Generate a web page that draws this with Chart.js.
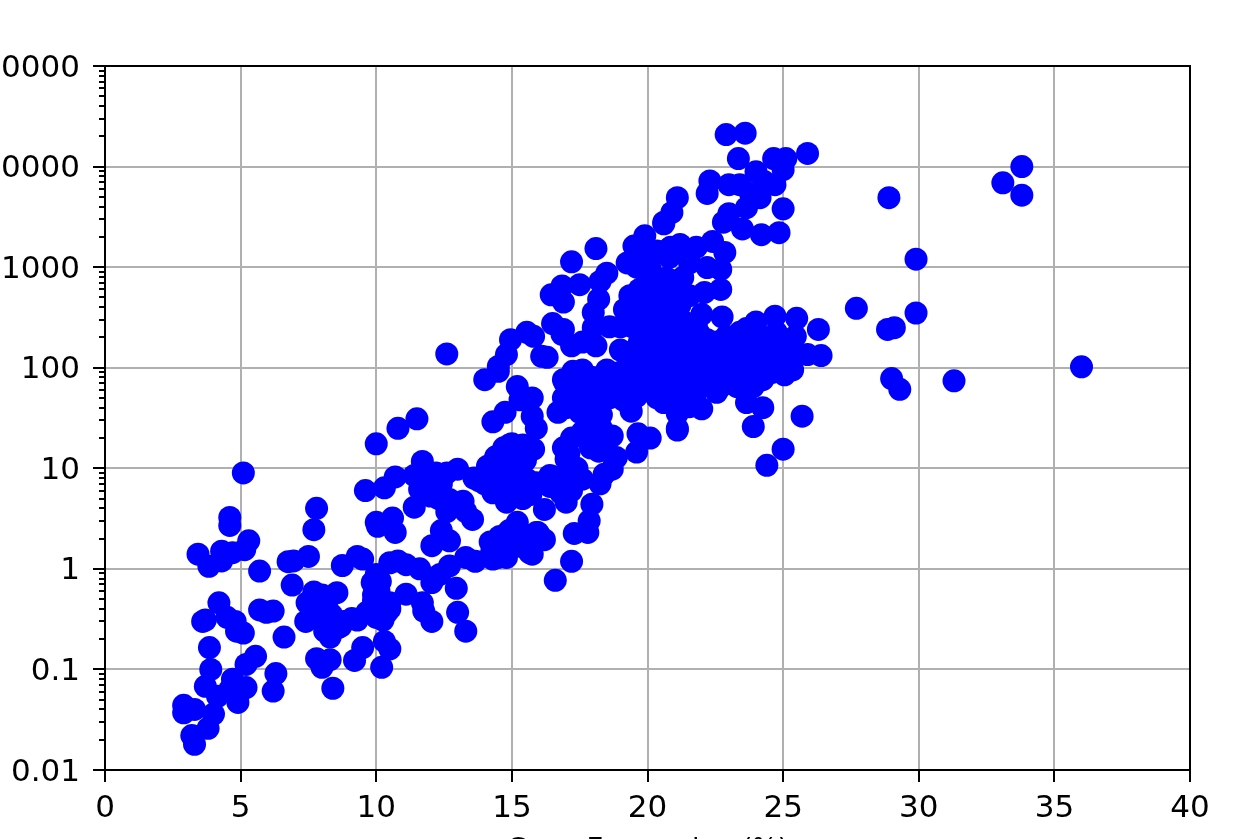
<!DOCTYPE html>
<html>
<head>
<meta charset="utf-8">
<title>Scatter</title>
<script src="https://cdn.jsdelivr.net/npm/chart.js@4"></script>
<style>
  html, body { margin: 0; padding: 0; background: #fff; overflow: hidden; }
  canvas { display: block; }
</style>
</head>
<body>
<canvas id="chart" width="1260" height="839"></canvas>
<script>
// values
const xValues = [
  4.6,4.6,3.43,3.83,4.3,4.3,4.7,5.15,5.3,5.7,6.75,6.95,7.5,7.8,7.7,6.9,4.2,3.6,3.7,4.5,4.8,5.1,4.85,5.7,5.95,6.2,6.6,3.85,3.9,3.7,
  5.55,5.2,6.3,6.2,4.7,5.2,4.9,4.9,4.6,4.15,4.0,2.9,2.9,3.3,3.8,3.2,3.3,
  7.7,7.45,7.8,8.55,8.2,7.4,8.35,8.3,8.1,8.6,9.1,9.65,10.0,10.25,10.15,10.5,11.1,11.7,11.75,12.05,13.0,13.3,10.3,10.5,9.5,9.2,10.2,7.8,8.3,8.0,8.4,
  8.75,9.3,9.5,9.85,10.15,10.0,10.5,10.8,11.1,11.6,12.05,12.35,12.95,12.7,13.3,13.65,14.3,
  11.4,10.05,10.6,10.7,10.0,12.05,12.4,12.7,13.55,
  10.0,10.8,11.5,11.7,9.6,10.3,10.7,11.4,12.6,13.0,12.05,11.6,12.0,12.35,12.7,12.6,13.2,13.3,14.1,13.8,14.3,14.8,14.3,14.75,14.9,15.3,
  14.8,15.3,15.55,15.2,15.7,15.9,14.2,14.55,15.2,14.8,15.65,15.9,14.25,15.2,14.9,
  14.0,14.5,15.2,15.75,15.3,15.75,15.9,16.7,15.8,15.4,16.9,17.0,17.25,17.6,16.5,16.4,16.8,16.2,17.0,17.95,17.85,17.8,17.3,17.2,16.6,16.2,15.95,15.75,14.8,
  18.25,18.7,18.85,18.4,18.2,18.7,18.3,17.6,18.0,17.5,18.3,17.8,16.95,17.15,17.5,18.35,18.05,19.4,19.25,21.1,20.1,19.6,19.65,
  12.6,14.5,14.8,14.95,15.55,15.8,16.1,16.3,16.45,16.85,16.9,16.5,16.9,16.85,17.2,17.5,17.2,18.1,18.5,18.25,18.2,18.0,18.0,18.1,17.6,18.6,19.25,19.5,19.9,19.0,19.35,
  17.25,16.9,17.15,17.6,18.5,19.1,18.35,20,20.1,19.35,19.6,20,20.1,19.6,20.1,19.45,20,
  20.85,21.2,20.6,21.8,22.4,22.85,22.7,22.2,21.55,21.3,22.7,22.1,20.7,20.1,21.55,20.1,20.7,19.15,22,22.75,21.8,
  24.7,25.5,26.3,26.4,25.9,25.7,23.9,24.25,25.05,25.35,25.45,24.75,24.0,23.65,23.4,22.9,22.55,24.5,25,25.25,24.25,24.75,24.25,23.9,23.8,23.3,22.9,23.5,23.3,23.65,22.55,22,21.1,21.1,
  20.35,21.7,21.3,21.95,20.7,20.2,20.7,21.3,21.7,20.95,20.35,19.85,19.6,22.3,22.7,20.7,20.1,21.3,20.6,21.55,21.95,23.15,22.3,21.3,20.6,19.25,19.0,18.5,18.25,
  22.9,23.6,23.35,24.65,25.1,25.9,25,24.0,24.3,24.7,22.3,22.2,23,23.4,23.8,24.15,23.65,25,23,22.8,23.5,24.2,24.85,21.1,20.9,20.6,20.8,20.35,
  28.9,33.1,33.8,33.8,29.9,27.7,29.9,28.85,29.1,29.0,29.3,31.3,36,25,24.4,5.1,
  19.7,20.0,20.3,20.5,20.9,21.2,21.0,20.4,20.8,21.1,21.4,20.0,20.4,20.9,21.5,19.7,19.9,20.4,20.9,21.1,20.5,20.9,21.5,20.0,20.5,21.0,21.4,19.8,20.3,
  21.8,22.1,22.5,22.8,23.0,23.4,23.7,24.0,24.3,24.5,24.1,23.7,23.2,22.7,22.2,21.9,24.7,25.1,25.2,24.9,23.0,23.6,22.4,21.9,24.0,24.6,19.0,18.9,19.3,19.6,18.6,18.0,17.4,19.1,
  14.6,15.0,14.5,15.4,14.1,14.4,15.0,14.7,15.0,15.5,16.4,16.8,17.2,17.4,17.1,15.0,15.4,14.9,14.5,15.9,16.0,12.3,12.9,13.6,14.0,11.9,12.4,12.2,17.9,17.2,16.9,17.0,18.0,18.5,16.9,
  8.6,8.8,9.3,8.0,8.7,9.9,10.1,10.5,10.0,8.0,7.9,10.4,9.9
];
const yValues = [
  3.25,2.7,1.4,1.06,1.5,1.2,1.45,1.55,1.9,0.95,1.18,1.2,1.33,4.0,2.45,0.69,0.46,0.3,0.31,0.33,0.3,0.23,0.24,0.39,0.37,0.38,0.21,0.165,0.1,0.068,
  0.135,0.112,0.091,0.061,0.08,0.066,0.047,0.054,0.063,0.054,0.036,0.044,0.037,0.04,0.026,0.022,0.018,
  0.59,0.46,0.42,0.58,0.4,0.3,0.35,0.21,0.24,0.26,0.32,0.37,0.34,0.31,0.42,0.46,0.56,0.46,0.38,0.3,0.37,0.24,0.19,0.16,0.165,0.123,0.105,0.128,0.125,0.105,0.065,
  1.08,1.33,1.25,0.73,0.75,0.88,1.15,1.2,1.1,1.0,0.73,0.88,0.64,1.07,1.3,1.19,1.25,
  4.1,2.65,3.2,2.3,2.9,1.7,2.4,1.9,3.1,
  17.5,25,31,11.7,6.0,6.4,8.2,8.5,9.0,9.8,7.8,6.2,5.3,6.2,4.9,3.7,4.7,3.7,10.5,7.5,5.7,4.6,29,36,17,14.4,
  11.5,9.8,7.8,6.2,5.5,7.2,1.85,2.1,2.9,1.45,1.45,2.3,1.45,1.68,2.0,
  76,92,65,50,48,33,25,36,15.5,17,16,12.3,9.8,7.8,8.3,6.6,5.7,3.9,4.6,4.4,3.0,2.3,2.25,1.19,0.77,1.95,2.3,1.4,1.3,
  7,9.8,12.8,8.7,14.8,21,25,23,30,36,34,48,71,57,61,52,71,37,45,24,20,14.5,22,
  137,103,135,190,225,205,130,127,530,650,450,275,240,215,165,670,1130,1530,870,720,480,355,250,165,180,255,1100,1620,2050,150,125,
  92,76,65,95,95,65,61,90,112,520,1000,780,1300,410,320,255,530,
  1580,1680,2700,1580,1800,1400,950,990,1100,790,600,560,780,950,520,480,550,380,340,320,260,
  325,310,240,132,135,33,26,40,85,95,205,225,285,245,225,205,180,165,140,165,120,103,76,65,120,103,140,165,65,45,57,39,25,35,
  50,50,103,120,120,165,225,225,165,320,320,225,95,82,65,70,82,65,45,41,90,82,140,140,140,140,255,82,57,
  20800,21500,12000,12000,12000,13500,9300,8900,7100,6600,7200,5400,6600,6600,5400,4900,3900,3800,3400,2800,2400,2100,2200,4900,3500,2800,1250,1450,
  4900,6900,10000,5200,1200,390,350,240,250,78,61,74,102,15.5,10.7,9,
  600,420,650,400,450,420,600,260,280,200,280,180,190,170,190,180,130,130,130,100,95,85,85,70,60,55,75,60,75,
  120,100,110,100,120,130,100,130,150,200,200,190,170,150,190,220,130,110,130,180,85,80,70,62,90,90,90,60,75,52,50,80,75,48,
  8,7,6.5,5,9,13,10,16,17.5,12,8.5,8,6,10,14,1.7,2.2,2.4,1.3,1.9,2.2,5,4.2,8,7,8.5,7,9,16,20,50,40,20,15,8.5,
  0.28,0.3,0.31,0.55,0.27,0.55,0.6,0.4,0.33,0.38,0.33,0.37,0.48
];
const xTicks = [0, 5, 10, 15, 20, 25, 30, 35, 40];
const yTicks = [0.01, 0.1, 1, 10, 100, 1000, 10000, 100000];
const yTickLabels = ['0.01', '0.1', '1', '10', '100', '1000', '10000', '100000'];
const xTitle = 'Gene Expression (%)';

const points = xValues.map((x, i) => ({ x: x, y: yValues[i] }));

// frame and the log minor ticks, drawn above the points like the original
const framePlugin = {
    id: 'frame',
    afterDatasetsDraw(chart) {
        const c = chart.ctx;
        const a = chart.chartArea;
        const yScale = chart.scales.y;
        c.save();
        c.strokeStyle = '#000';
        c.lineWidth = 2;
        c.strokeRect(a.left, a.top, a.right - a.left, a.bottom - a.top);
        c.beginPath();
        yTicks.slice(0, -1).forEach(base => {
            for (let m = 2; m < 10; m++) {
                const py = Math.round(yScale.getPixelForValue(base * m));
                c.moveTo(a.left - 6, py);
                c.lineTo(a.left, py);
            }
        });
        c.stroke();
        c.restore();
    }
};

new Chart(document.getElementById('chart').getContext('2d'), {
    type: 'scatter',
    data: {
        datasets: [{
            data: points,
            backgroundColor: '#0000ff',
            borderWidth: 0,
            pointRadius: 11.5,
            pointHoverRadius: 11.5
        }]
    },
    options: {
        responsive: false,
        animation: false,
        layout: { padding: { top: 66, right: 70, left: 0, bottom: 0 } },
        plugins: { legend: { display: false }, tooltip: { enabled: false } },
        scales: {
            x: {
                type: 'linear',
                min: 0,
                max: 40,
                afterBuildTicks(scale) { scale.ticks = xTicks.map(v => ({ value: v })); },
                afterFit(scale) { scale.height = 69; },
                grid: { color: '#b0b0b0', lineWidth: 2, tickColor: '#000', tickLength: 12, tickWidth: 2 },
                border: { display: false },
                ticks: {
                    color: '#000',
                    font: { family: 'DejaVu Sans', size: 31 },
                    padding: 8,
                    maxRotation: 0,
                    autoSkip: false
                },
                title: {
                    display: true,
                    text: xTitle,
                    color: '#000',
                    font: { family: 'DejaVu Sans', size: 27 },
                    padding: { top: 0, bottom: -27 }
                }
            },
            y: {
                type: 'logarithmic',
                min: 0.01,
                max: 100000,
                afterBuildTicks(scale) { scale.ticks = yTicks.map(v => ({ value: v })); },
                afterFit(scale) { scale.width = 105; },
                grid: { color: '#b0b0b0', lineWidth: 2, tickColor: '#000', tickLength: 12, tickWidth: 2 },
                border: { display: false },
                ticks: {
                    color: '#000',
                    // short line height plus an empty first line nudges the label down a little
                    font: { family: 'DejaVu Sans', size: 31, lineHeight: '5px' },
                    padding: 13,
                    autoSkip: false,
                    callback(value) { return ['', yTickLabels[yTicks.indexOf(value)]]; }
                }
            }
        }
    },
    plugins: [framePlugin]
});
</script>
</body>
</html>
